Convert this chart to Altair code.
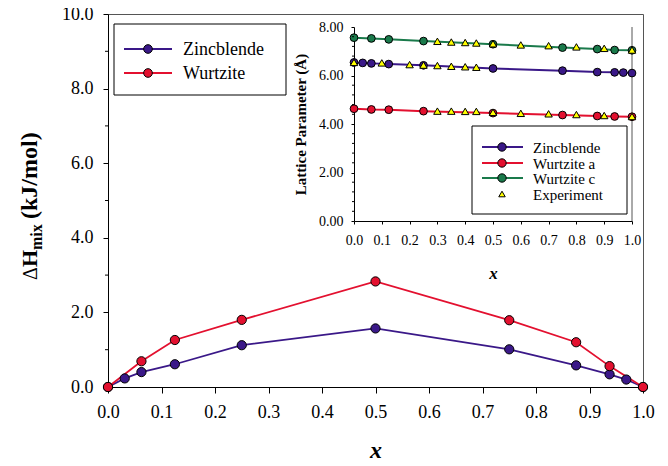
import altair as alt
import pandas as pd

# ---------------- data ----------------
# main panel: enthalpy of mixing
x_zb = [0.0, 0.03125, 0.0625, 0.125, 0.25, 0.5, 0.75, 0.875, 0.9375, 0.96875, 1.0]
h_zb = [0.0, 0.23, 0.40, 0.61, 1.12, 1.57, 1.01, 0.58, 0.34, 0.20, 0.0]
x_wz = [0.0, 0.0625, 0.125, 0.25, 0.5, 0.75, 0.875, 0.9375, 1.0]
h_wz = [0.0, 0.69, 1.26, 1.80, 2.83, 1.79, 1.20, 0.56, 0.0]

# inset: lattice parameters
a_zb = [6.54, 6.52, 6.50, 6.47, 6.42, 6.29, 6.20, 6.14, 6.13, 6.12, 6.10]
a_wz = [4.63, 4.60, 4.59, 4.53, 4.45, 4.37, 4.33, 4.31, 4.30]
c_wz = [7.56, 7.53, 7.49, 7.42, 7.29, 7.15, 7.09, 7.05, 7.04]

exp_x_c = [0.30, 0.35, 0.40, 0.44, 0.50, 0.60, 0.70, 0.80, 0.90, 1.00]
exp_c = [7.41, 7.38, 7.36, 7.34, 7.31, 7.26, 7.23, 7.18, 7.12, 7.05]
exp_x_zb = [0.00, 0.10, 0.20, 0.25, 0.30, 0.35, 0.40, 0.44]
exp_zb = [6.54, 6.52, 6.45, 6.43, 6.41, 6.38, 6.36, 6.34]
exp_x_a = [0.30, 0.35, 0.40, 0.44, 0.50, 0.60, 0.70, 0.80, 0.90, 1.00]
exp_a = [4.53, 4.53, 4.52, 4.52, 4.48, 4.44, 4.42, 4.39, 4.35, 4.31]

x_ticks = [0.0, 0.1, 0.2, 0.3, 0.4, 0.5, 0.6, 0.7, 0.8, 0.9, 1.0]
main_y_ticks = [0, 2, 4, 6, 8, 10]
main_y_minor = [1, 3, 5, 7, 9]
inset_y_ticks = [0, 2, 4, 6, 8]
inset_y_minor = [0.4, 0.8, 1.2, 1.6, 2.4, 2.8, 3.2, 3.6, 4.4, 4.8, 5.2, 5.6, 6.4, 6.8, 7.2, 7.6]

main_series = ["Zincblende", "Wurtzite"]
inset_series = ["Zincblende", "Wurtzite a", "Wurtzite c"]

# ---------------- style ----------------
FONT = "Liberation Serif"
PURPLE = "#3a1888"
RED = "#e3102f"
GREEN = "#1a7a4b"
YELLOW = "#ffff00"

W, H = 535, 373
dummy = pd.DataFrame({"d": [0]})

main_df = pd.DataFrame({
    "x": x_zb + x_wz,
    "h": h_zb + h_wz,
    "series": ["Zincblende"] * len(x_zb) + ["Wurtzite"] * len(x_wz),
})
inset_df = pd.DataFrame({
    "x": x_zb + x_wz + x_wz,
    "a": a_zb + a_wz + c_wz,
    "series": ["Zincblende"] * len(x_zb) + ["Wurtzite a"] * len(x_wz) + ["Wurtzite c"] * len(x_wz),
})
exp_df = pd.DataFrame({
    "x": exp_x_c + exp_x_zb + exp_x_a,
    "a": exp_c + exp_zb + exp_a,
})

# ---------------- main panel ----------------
mx = alt.X("x:Q",
           scale=alt.Scale(domain=[0, 1], nice=False, zero=False),
           axis=alt.Axis(values=x_ticks, format=".1f", title="x",
                         labelFont=FONT, labelFontSize=18, labelColor="black",
                         labelFlush=False, labelOverlap=False,
                         labelPadding=10, tickSize=6, tickColor="black",
                         domainColor="black", grid=False,
                         titleFont=FONT, titleFontSize=24, titleFontStyle="italic",
                         titleFontWeight="bold", titleColor="black", titlePadding=17))
my = alt.Y("h:Q",
           scale=alt.Scale(domain=[0, 10], nice=False, zero=False),
           axis=alt.Axis(values=main_y_ticks, format=".1f", title=None,
                         labelFont=FONT, labelFontSize=18, labelColor="black",
                         labelFlush=False, labelOverlap=False,
                         labelPadding=10, tickSize=5, tickColor="black",
                         domainColor="black", grid=False))
mcolor_scale = alt.Scale(domain=main_series, range=[PURPLE, RED])

main_lines = alt.Chart(main_df).mark_line(strokeWidth=1.8).encode(
    x=mx, y=my, color=alt.Color("series:N", scale=mcolor_scale, legend=None))
main_pts = alt.Chart(main_df).mark_circle(size=85, opacity=1, stroke="black", strokeWidth=1).encode(
    x=mx, y=my, fill=alt.Fill("series:N", scale=mcolor_scale, legend=None))
main_minor = alt.Chart(pd.DataFrame({"h": main_y_minor})).mark_rule(color="black").encode(
    y=my, x=alt.value(-3), x2=alt.value(0))

# legends built from marks
def legend_layers(box, entries, line_x, circ_x, text_x, fsize, csize):
    layers = [alt.Chart(dummy).mark_rect(fill="white", stroke="black", strokeWidth=1).encode(
        x=alt.value(box[0]), x2=alt.value(box[1]), y=alt.value(box[2]), y2=alt.value(box[3]))]
    for label, ypos, col, shape in entries:
        if shape == "circle":
            layers.append(alt.Chart(dummy).mark_rule(color=col, strokeWidth=2).encode(
                x=alt.value(line_x[0]), x2=alt.value(line_x[1]), y=alt.value(ypos)))
            layers.append(alt.Chart(dummy).mark_point(shape="circle", filled=True, fill=col,
                                                      stroke="black", strokeWidth=1, size=csize, opacity=1).encode(
                x=alt.value(circ_x), y=alt.value(ypos)))
        else:
            layers.append(alt.Chart(dummy).mark_point(shape="triangle-up", filled=True, fill=col,
                                                      stroke="black", strokeWidth=1, size=csize * 0.6, opacity=1).encode(
                x=alt.value(circ_x), y=alt.value(ypos)))
        layers.append(alt.Chart(dummy).mark_text(align="left", baseline="middle", font=FONT,
                                                 fontSize=fsize, color="black").encode(
            x=alt.value(text_x), y=alt.value(ypos + 1), text=alt.value(label)))
    return layers

main_legend = legend_layers((6, 178, 10, 81),
                            [("Zincblende", 35, PURPLE, "circle"), ("Wurtzite", 59, RED, "circle")],
                            (16, 64), 40, 75, 18, 75)

# y title pieces (ΔH_mix (kJ/mol))
def ytext(txt, x, y, size, weight):
    return alt.Chart(dummy).mark_text(angle=270, align="left", baseline="alphabetic", font=FONT,
                                      fontSize=size, fontWeight=weight, color="black").encode(
        x=alt.value(x), y=alt.value(y), text=alt.value(txt))

ytitle = [
    ytext("Δ", -71, 266, 20, "normal"),
    ytext("H", -71, 253, 22, "bold"),
    ytext("mix", -66, 236, 16, "bold"),
    ytext("(kJ/mol)", -71, 205, 24, "bold"),
]

main_layer = alt.layer(main_lines, main_pts, main_minor, *main_legend, *ytitle)

# ---------------- inset ----------------
IX0, IX1 = 246, 524
IY0, IY1 = 207, 13
ix = alt.X("x:Q",
           scale=alt.Scale(domain=[0, 1], range=[IX0, IX1], nice=False, zero=False),
           axis=alt.Axis(orient="bottom", offset=IY0 - H, values=x_ticks, format=".1f", title="x",
                         labelFont=FONT, labelFontSize=14, labelColor="black",
                         labelFlush=False, labelOverlap=False,
                         labelPadding=9, tickSize=3, tickColor="black",
                         domainColor="black", grid=False,
                         titleFont=FONT, titleFontSize=17, titleFontStyle="italic",
                         titleFontWeight="bold", titleColor="black", titlePadding=18))
iy = alt.Y("a:Q",
           scale=alt.Scale(domain=[0, 8], range=[IY0, IY1], nice=False, zero=False),
           axis=alt.Axis(orient="left", offset=-IX0, values=inset_y_ticks, format=".2f",
                         title="Lattice Parameter (Å)",
                         labelFont=FONT, labelFontSize=14, labelColor="black",
                         labelFlush=False, labelOverlap=False,
                         labelPadding=8, tickSize=3, tickColor="black",
                         domainColor="black", grid=False,
                         titleFont=FONT, titleFontSize=15, titleFontWeight="bold",
                         titleColor="black", titlePadding=10))
icolor_scale = alt.Scale(domain=inset_series, range=[PURPLE, RED, GREEN])

inset_lines = alt.Chart(inset_df).mark_line(strokeWidth=2).encode(
    x=ix, y=iy, color=alt.Color("series:N", scale=icolor_scale, legend=None))
inset_pts = alt.Chart(inset_df).mark_circle(size=60, opacity=1, stroke="black", strokeWidth=1).encode(
    x=ix, y=iy, fill=alt.Fill("series:N", scale=icolor_scale, legend=None))
inset_exp = alt.Chart(exp_df).mark_point(shape="triangle-up", filled=True, fill=YELLOW, stroke="black",
                                         strokeWidth=1, size=55, opacity=1).encode(x=ix, y=iy)
inset_minor = alt.Chart(pd.DataFrame({"a": inset_y_minor})).mark_rule(color="black").encode(
    y=iy, x=alt.value(IX0 - 2), x2=alt.value(IX0))
inset_right = alt.Chart(dummy).mark_rule(color="#555555").encode(
    x=alt.value(IX1), y=alt.value(IY1), y2=alt.value(IY0))

inset_legend = legend_layers((364, 519, 112, 200),
                             [("Zincblende", 133, PURPLE, "circle"), ("Wurtzite a", 149, RED, "circle"),
                              ("Wurtzite c", 164, GREEN, "circle"), ("Experiment", 180, YELLOW, "tri")],
                             (374, 415), 394, 425, 15, 70)

inset_layer = alt.layer(inset_right, inset_lines, inset_pts, inset_exp, inset_minor, *inset_legend)

chart = alt.layer(main_layer, inset_layer).resolve_scale(
    x="independent", y="independent", color="independent", fill="independent"
).properties(
    width=W, height=H, autosize="none",
    padding={"left": 100, "top": 6, "right": 17, "bottom": 79},
    background="white",
).configure_view(stroke="#555555", strokeWidth=1)

chart.save("out.html", embed_options={"renderer": "svg", "actions": False})
